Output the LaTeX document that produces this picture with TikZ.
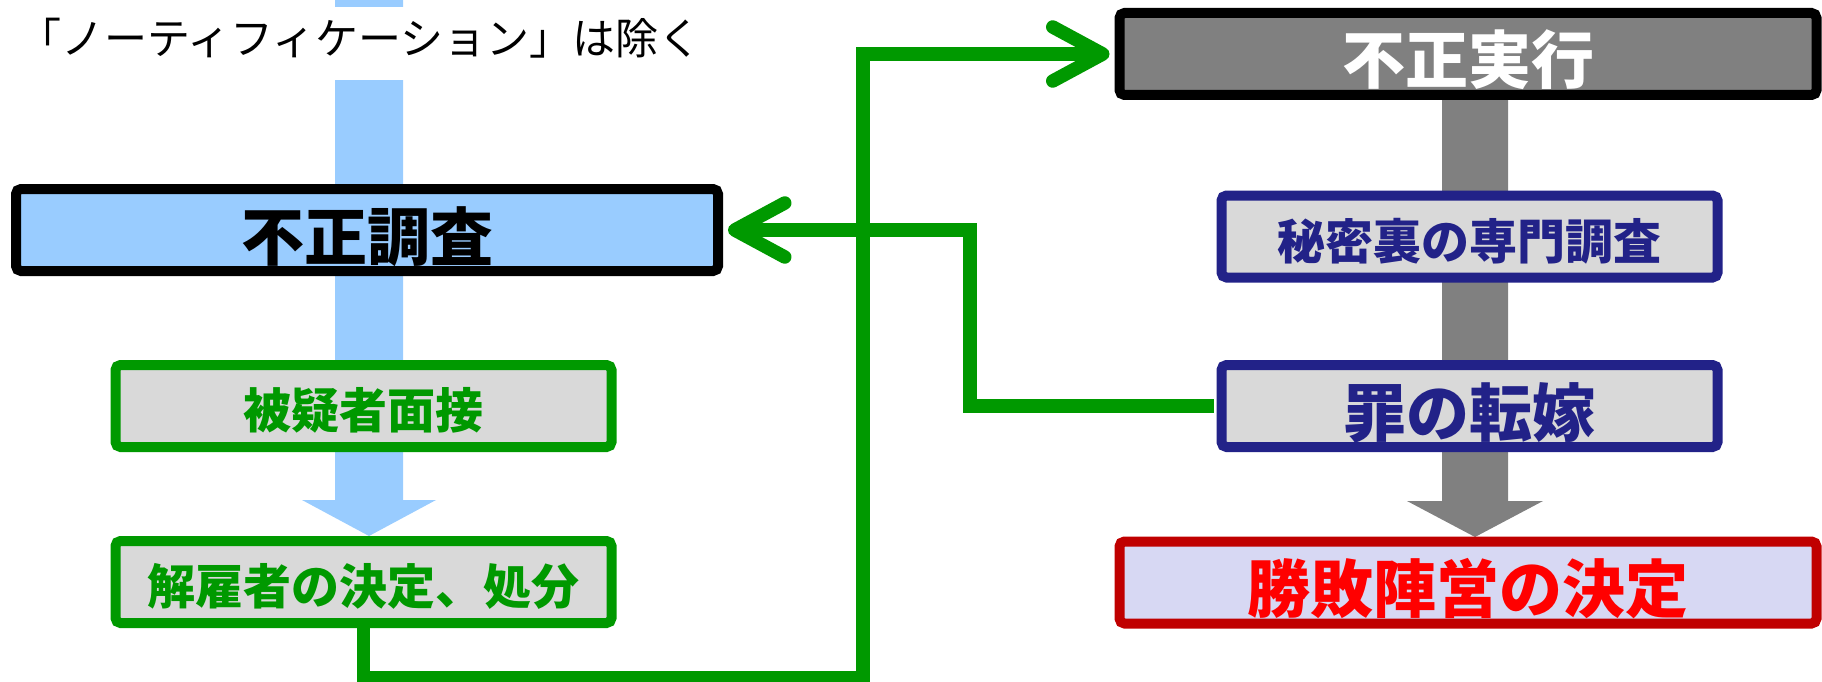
\documentclass[tikz,border=0pt]{standalone}
\usepackage{fontspec}
\newfontfamily\jp{Noto Sans CJK JP}
\usetikzlibrary{arrows.meta}

\definecolor{skyblue}{HTML}{99CCFF}
\definecolor{midgray}{HTML}{808080}
\definecolor{lightgray}{HTML}{D9D9D9}
\definecolor{leafgreen}{HTML}{009900}
\definecolor{navy}{HTML}{222288}
\definecolor{darkred}{HTML}{C00000}
\definecolor{brightred}{HTML}{FF0000}
\definecolor{lavender}{HTML}{D7D8F3}

\tikzset{
  box/.style={draw, line width=10pt, rounded corners=5pt, inner sep=0pt, minimum height=82pt},
  bigtext/.style={font=\jp\bfseries\fontsize{63}{70}\selectfont, text height=60pt, text depth=0pt},
  midtext/.style={font=\jp\bfseries\fontsize{48}{54}\selectfont, text height=45.5pt, text depth=0pt},
  wide/.style={minimum width=697pt},
  narrow/.style={minimum width=496pt},
  greenbox/.style={box, narrow, draw=leafgreen, fill=lightgray, text=leafgreen, midtext},
  navybox/.style={box, narrow, draw=navy, fill=lightgray, text=navy},
  note/.style={fill=white, inner sep=0pt, minimum height=73pt,
    font=\jp\fontsize{43}{50}\selectfont, text height=29.5pt, text depth=8pt},
  link/.style={draw=leafgreen, line width=13.5pt},
  linkarrow/.style={link, -{Straight Barb[length=50pt, width=54pt, round]}, shorten >=5pt},
}

\begin{document}
\begin{tikzpicture}[x=1pt, y=-1pt]
\useasboundingbox (0,0) rectangle (1822,682);

% broad flow arrows behind the boxes
\fill[skyblue] (335,0) -- (403,0) -- (403,500) -- (436,500) -- (369,536)
  -- (302,500) -- (335,500) -- cycle;
\fill[midgray] (1442,100) -- (1508,100) -- (1508,501) -- (1543,501) -- (1475,537)
  -- (1407,501) -- (1442,501) -- cycle;

% note across the top of the left flow
\node[note] (note) at (360,43.5) {「ノーティフィケーション」は除く};

% left column
\node[box, draw=black, fill=skyblue, minimum width=702pt, bigtext] (chosa) at (367,230) {不正調査};
\node[greenbox] (mensetsu) at (363.5,406) {被疑者面接};
\node[greenbox] (kaiko) at (363.5,582) {解雇者の決定、処分};

% right column
\node[box, wide, draw=black, fill=midgray, text=white, bigtext] (jikko) at (1468,54) {不正実行};
\node[navybox, midtext] (himitsu) at (1469.5,236.5) {秘密裏の専門調査};
\node[navybox, bigtext] (tenka) at (1469.5,406) {罪の転嫁};
\node[box, wide, draw=darkred, fill=lavender, text=brightred, bigtext] (shohai) at (1468,582.5) {勝敗陣営の決定};

% green connectors
\coordinate (floor) at (863,678);
\coordinate (bend) at (970,230);
\draw[linkarrow] (kaiko.south) |- (floor) |- (jikko.west);
\draw[linkarrow, shorten <=3pt] (tenka.west) -| (bend) -- (chosa.east);
\end{tikzpicture}
\end{document}
